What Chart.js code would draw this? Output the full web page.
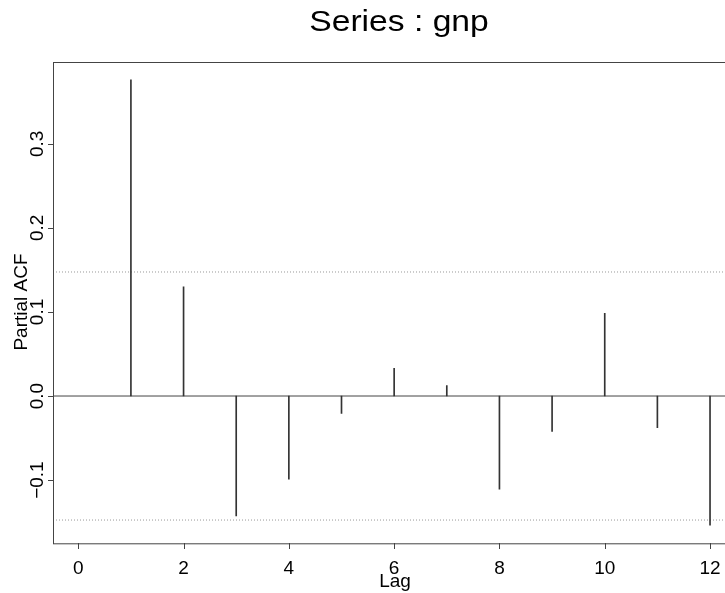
<!DOCTYPE html>
<html><head><meta charset="utf-8">
<script src="https://cdn.jsdelivr.net/npm/chart.js@4/dist/chart.umd.min.js"></script>
<style>
html,body{margin:0;padding:0;background:#fff;overflow:hidden;width:725px;height:593px}
#wrap{width:760px;height:593px}
</style></head>
<body><div id="wrap"><canvas id="c" width="760" height="593"></canvas></div>
<script>
const chartTitle = 'Series : gnp';
const xTitle = 'Lag';
const yTitle = 'Partial ACF';
const lags = [1, 2, 3, 4, 5, 6, 7, 8, 9, 10, 11, 12];
const pacf = [0.376, 0.130, -0.1425, -0.099, -0.0206, 0.0329, 0.0124, -0.1108, -0.042, 0.0983, -0.0376, -0.1536];
const ciLevel = 0.1475;
const xTicks = [0, 2, 4, 6, 8, 10, 12];
const yTicks = [-0.1, 0.0, 0.1, 0.2, 0.3];
const yTickLabels = ['\u22120.1', '0.0', '0.1', '0.2', '0.3'];

const xMin = -0.48, xMax = 12.48, yMin = -0.1748, yMax = 0.3976;
const FONT = '"Liberation Sans", Arial, Helvetica, sans-serif';

const rAxes = {
  id: 'rAxes',
  afterDraw(chart) {
    const {ctx, chartArea: a, scales: {x, y}} = chart;
    ctx.save();
    ctx.strokeStyle = '#444';
    ctx.lineWidth = 1;
    ctx.strokeRect(Math.round(a.left) + 0.5, Math.round(a.top) + 0.5, a.right - a.left, a.bottom - a.top);
    ctx.beginPath();
    xTicks.forEach(v => { const px = Math.round(x.getPixelForValue(v)) + 0.5; ctx.moveTo(px, a.bottom); ctx.lineTo(px, a.bottom + 6); });
    yTicks.forEach(v => { const py = Math.round(y.getPixelForValue(v)) + 0.5; ctx.moveTo(a.left, py); ctx.lineTo(a.left - 5, py); });
    ctx.stroke();
    ctx.fillStyle = '#000';
    ctx.font = '19px ' + FONT;
    ctx.textAlign = 'center';
    ctx.textBaseline = 'alphabetic';
    xTicks.forEach(v => ctx.fillText(String(v), x.getPixelForValue(v), 574));
    yTicks.forEach((v, i) => {
      ctx.save();
      ctx.translate(43, y.getPixelForValue(v));
      ctx.rotate(-Math.PI / 2);
      ctx.fillText(yTickLabels[i], 0, 0);
      ctx.restore();
    });
    ctx.fillText(xTitle, 395, 587);
    ctx.save();
    ctx.translate(27, 302);
    ctx.rotate(-Math.PI / 2);
    ctx.fillText(yTitle, 0, 0);
    ctx.restore();
    ctx.save();
    ctx.font = '29px ' + FONT;
    ctx.translate(399, 30.5);
    ctx.scale(1.16, 1);
    ctx.fillText(chartTitle, 0, 0);
    ctx.restore();
    ctx.restore();
  }
};

new Chart(document.getElementById('c').getContext('2d'), {
  data: {
    datasets: [
      {type: 'bar', data: lags.map((l, i) => ({x: l, y: pacf[i]})), backgroundColor: '#333', borderWidth: 0, barThickness: 1, grouped: false},
      {type: 'line', data: [{x: xMin, y: 0}, {x: xMax, y: 0}], borderColor: '#444', borderWidth: 1, pointRadius: 0},
      {type: 'line', data: [{x: xMin, y: ciLevel}, {x: xMax, y: ciLevel}], borderColor: '#999', borderWidth: 1, borderDash: [1, 2], pointRadius: 0},
      {type: 'line', data: [{x: xMin, y: -ciLevel}, {x: xMax, y: -ciLevel}], borderColor: '#999', borderWidth: 1, borderDash: [1, 2], pointRadius: 0}
    ]
  },
  options: {
    responsive: false,
    animation: false,
    layout: {padding: {left: 53, top: 61.7, right: 24.7, bottom: 50}},
    plugins: {legend: {display: false}, title: {display: false}, tooltip: {enabled: false}},
    scales: {
      x: {type: 'linear', min: xMin, max: xMax, display: false, offset: false},
      y: {type: 'linear', min: yMin, max: yMax, display: false}
    }
  },
  plugins: [rAxes]
});
</script>
</body></html>
